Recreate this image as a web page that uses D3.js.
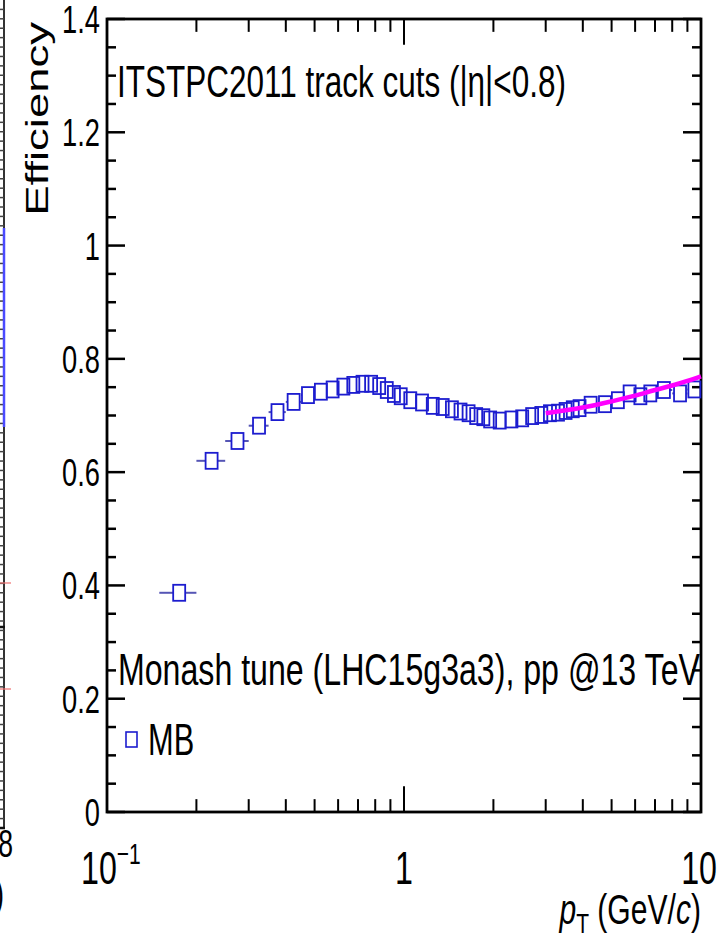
<!DOCTYPE html>
<html>
<head>
<meta charset="utf-8">
<script src="https://cdn.jsdelivr.net/npm/d3@7"></script>
<style>
  html, body { margin: 0; padding: 0; background: #fff; }
  svg { display: block; }
</style>
</head>
<body>
<script>
// pT bin edges (GeV/c) and efficiency per bin
var ptEdges = [0.15, 0.2, 0.25, 0.3, 0.35, 0.4, 0.45, 0.5, 0.55, 0.6, 0.65, 0.7, 0.75, 0.8, 0.85, 0.9, 0.95, 1.0,
               1.1, 1.2, 1.3, 1.4, 1.5, 1.6, 1.7, 1.8, 1.9, 2.0,
               2.2, 2.4, 2.6, 2.8, 3.0, 3.2, 3.4, 3.6, 3.8, 4.0,
               4.5, 5.0, 5.5, 6.0, 6.5, 7.0, 8.0, 9.0, 10.0];
var efficiency = [0.387, 0.620, 0.655, 0.682, 0.706, 0.724, 0.736, 0.742, 0.746, 0.751, 0.754, 0.756, 0.756, 0.752, 0.745, 0.738, 0.734,
                  0.727, 0.723, 0.717, 0.715, 0.711, 0.707, 0.704, 0.699, 0.697, 0.693,
                  0.691, 0.693, 0.695, 0.699, 0.701, 0.704, 0.705, 0.708, 0.711, 0.713,
                  0.719, 0.720, 0.727, 0.739, 0.734, 0.739,
                  0.745, 0.739, 0.746];

// magenta fit curve
var fitPt = [3, 4, 5, 6, 7, 8, 9, 10];
var fitEff = [0.704, 0.714, 0.725, 0.735, 0.745, 0.753, 0.761, 0.769];

var yTicks = [0, 0.2, 0.4, 0.6, 0.8, 1, 1.2, 1.4];
var yTickLabels = ['0', '0.2', '0.4', '0.6', '0.8', '1', '1.2', '1.4'];
var xTicks = [0.1, 1, 10];

var W = 717, H = 933;
var SX = 0.7; // picture is squeezed horizontally
var FONT = 'Liberation Sans, Arial, Helvetica, sans-serif';
var BLUE = '#1c1ccf';

var margin = { left: 107, right: 16, top: 19, bottom: 121 };

var svg = d3.select('body').append('svg')
    .attr('width', W)
    .attr('height', H)
    .attr('xmlns', 'http://www.w3.org/2000/svg');

var x = d3.scaleLog().domain([0.1, 10]).range([margin.left, W - margin.right]);
var y = d3.scaleLinear().domain([0, 1.4]).range([H - margin.bottom, margin.top]);

var addText = function (g, px, py, str, size, anchor, sx) {
    return g.append('text')
      .attr('transform', 'translate(' + px + ',' + py + ') scale(' + (sx || SX) + ',1)')
      .attr('font-family', FONT)
      .attr('font-size', size)
      .attr('text-anchor', anchor || 'start')
      .attr('fill', '#000')
      .text(str);
};

// ---- leftover of the neighbouring panel at the left edge
var side = svg.append('g').attr('class', 'side');
var sideY = d3.scaleLinear().domain([0, 88]).range([0, 828]);
side.append('line')
  .attr('x1', 4).attr('x2', 4).attr('y1', 0).attr('y2', 828)
  .attr('stroke', '#333').attr('stroke-width', 2);
side.selectAll('line.tk').data(d3.range(1, 89)).enter()
  .append('line')
    .attr('class', 'tk')
    .attr('x1', 0).attr('x2', 4)
    .attr('y1', function(d) { return sideY(d); })
    .attr('y2', function(d) { return sideY(d); })
    .attr('stroke', '#444').attr('stroke-width', 1.5);
side.append('line')
  .attr('x1', 4).attr('x2', 4).attr('y1', 228).attr('y2', 427)
  .attr('stroke', '#4a4aff').attr('stroke-width', 2.5);
side.selectAll('line.red').data([583, 689]).enter()
  .append('line')
    .attr('class', 'red')
    .attr('x1', 0).attr('x2', 11)
    .attr('y1', function(d) { return d; })
    .attr('y2', function(d) { return d; })
    .attr('stroke', '#f07070').attr('stroke-width', 1.2);
side.selectAll('line.box').data([627, 828]).enter()
  .append('line')
    .attr('class', 'box')
    .attr('x1', 0).attr('x2', 5)
    .attr('y1', function(d) { return d; })
    .attr('y2', function(d) { return d; })
    .attr('stroke', '#111').attr('stroke-width', 2.5);
addText(side, 13, 857, '0.8', 38, 'end');
addText(side, 4, 908, ')', 40, 'end');

// ---- frame and ticks
var plot = svg.append('g').attr('class', 'plot');
var x0 = x.range()[0], x1 = x.range()[1], yb = y.range()[0], yt = y.range()[1];

var yMinor = d3.range(0, 29).map(function(i) { return i * 0.05; });
var xMinor = [];
[0.1, 1].forEach(function(dec) {
    d3.range(2, 10).forEach(function(m) { xMinor.push(dec * m); });
});

var tickLen = { major: 18, minor: 9 };

// left & right axis ticks
[[x0, 1], [x1, -1]].forEach(function(side) {
    plot.selectAll(null).data(yMinor).enter()
      .append('line')
        .attr('x1', side[0])
        .attr('x2', function(d, i) { return side[0] + side[1] * (i % 4 === 0 ? tickLen.major : tickLen.minor); })
        .attr('y1', function(d) { return y(d); })
        .attr('y2', function(d) { return y(d); })
        .attr('stroke', '#000').attr('stroke-width', 2.5);
});

// bottom & top axis ticks (stretched vertically)
[[yb, -1], [yt, 1]].forEach(function(side) {
    plot.selectAll(null).data(xMinor).enter()
      .append('line')
        .attr('x1', function(d) { return x(d); })
        .attr('x2', function(d) { return x(d); })
        .attr('y1', side[0])
        .attr('y2', side[0] + side[1] * tickLen.minor / SX)
        .attr('stroke', '#000').attr('stroke-width', 2);
    plot.selectAll(null).data([1]).enter()
      .append('line')
        .attr('x1', function(d) { return x(d); })
        .attr('x2', function(d) { return x(d); })
        .attr('y1', side[0])
        .attr('y2', side[0] + side[1] * tickLen.major / SX)
        .attr('stroke', '#000').attr('stroke-width', 2);
});

plot.append('rect')
  .attr('x', x0).attr('y', yt)
  .attr('width', x1 - x0).attr('height', yb - yt)
  .attr('fill', 'none').attr('stroke', '#000').attr('stroke-width', 2.8);

// y tick labels
yTicks.forEach(function(v, i) {
    addText(plot, x0 - 7, y(v) + 14, yTickLabels[i], 39, 'end');
});

// x tick labels
var lab0 = plot.append('text')
  .attr('transform', 'translate(' + (x(xTicks[0]) - 26) + ',' + 884 + ') scale(' + SX + ',1)')
  .attr('font-family', FONT).attr('font-size', 46).attr('fill', '#000');
lab0.append('tspan').text('10');
lab0.append('tspan').attr('font-size', 30).attr('dy', -20).text('\u22121');
addText(plot, x(xTicks[1]), 884, '1', 46, 'middle');
addText(plot, W, 884, '10', 46, 'end');

// axis titles
svg.append('text')
  .attr('transform', 'translate(48,22) scale(' + SX + ',1) rotate(-90)')
  .attr('font-family', FONT)
  .attr('font-size', 45.5)
  .attr('text-anchor', 'end')
  .text('Efficiency');

var xt = svg.append('text')
  .attr('transform', 'translate(' + x1 + ',924) scale(' + SX + ',1)')
  .attr('font-family', FONT)
  .attr('font-size', 43)
  .attr('text-anchor', 'end');
xt.append('tspan').attr('font-style', 'italic').text('p');
xt.append('tspan').attr('font-size', 30).attr('dy', 10).text('T');
xt.append('tspan').attr('dy', -10).text(' (GeV/');
xt.append('tspan').attr('font-style', 'italic').text('c');
xt.append('tspan').text(')');

// ---- data
var bins = efficiency.map(function(v, i) {
    return { lo: ptEdges[i], hi: ptEdges[i + 1], pt: (ptEdges[i] + ptEdges[i + 1]) / 2, eff: v };
});

var mw = 12, mh = 16; // marker box (px)

var pts = plot.append('g').attr('class', 'points');
pts.selectAll('line.exl').data(bins.filter(function(d) { return x(d.pt) - x(d.lo) > mw / 2; })).enter()
  .append('line')
    .attr('x1', function(d) { return x(d.lo); })
    .attr('x2', function(d) { return x(d.pt) - mw / 2; })
    .attr('y1', function(d) { return y(d.eff); })
    .attr('y2', function(d) { return y(d.eff); })
    .attr('stroke', '#5555b5').attr('stroke-width', 2);
pts.selectAll('line.exh').data(bins.filter(function(d) { return x(d.hi) - x(d.pt) > mw / 2; })).enter()
  .append('line')
    .attr('x1', function(d) { return x(d.pt) + mw / 2; })
    .attr('x2', function(d) { return x(d.hi); })
    .attr('y1', function(d) { return y(d.eff); })
    .attr('y2', function(d) { return y(d.eff); })
    .attr('stroke', '#5555b5').attr('stroke-width', 2);
pts.selectAll('rect').data(bins).enter()
  .append('rect')
    .attr('x', function(d) { return x(d.pt) - mw / 2; })
    .attr('y', function(d) { return y(d.eff) - mh / 2; })
    .attr('width', mw).attr('height', mh)
    .attr('fill', 'none')
    .attr('stroke', BLUE).attr('stroke-width', 1.8);

// fit
var fitLine = d3.line()
    .x(function(d, i) { return x(fitPt[i]); })
    .y(function(d) { return y(d); })
    .curve(d3.curveMonotoneX);
plot.append('path')
  .attr('d', fitLine(fitEff))
  .attr('fill', 'none')
  .attr('stroke', '#ff00ff')
  .attr('stroke-width', 4.5);

// ---- annotations & legend
addText(svg, 117, 97, 'ITSTPC2011 track cuts (|\u03b7|<0.8)', 45, 'start');
addText(svg, 118, 685, 'Monash tune (LHC15g3a3), pp @13 TeV', 44, 'start', 0.73);

svg.append('rect')
  .attr('x', 126).attr('y', 732)
  .attr('width', 11).attr('height', 15)
  .attr('fill', 'none').attr('stroke', BLUE).attr('stroke-width', 1.6);
addText(svg, 148, 755, 'MB', 44, 'start');
</script>
</body>
</html>
